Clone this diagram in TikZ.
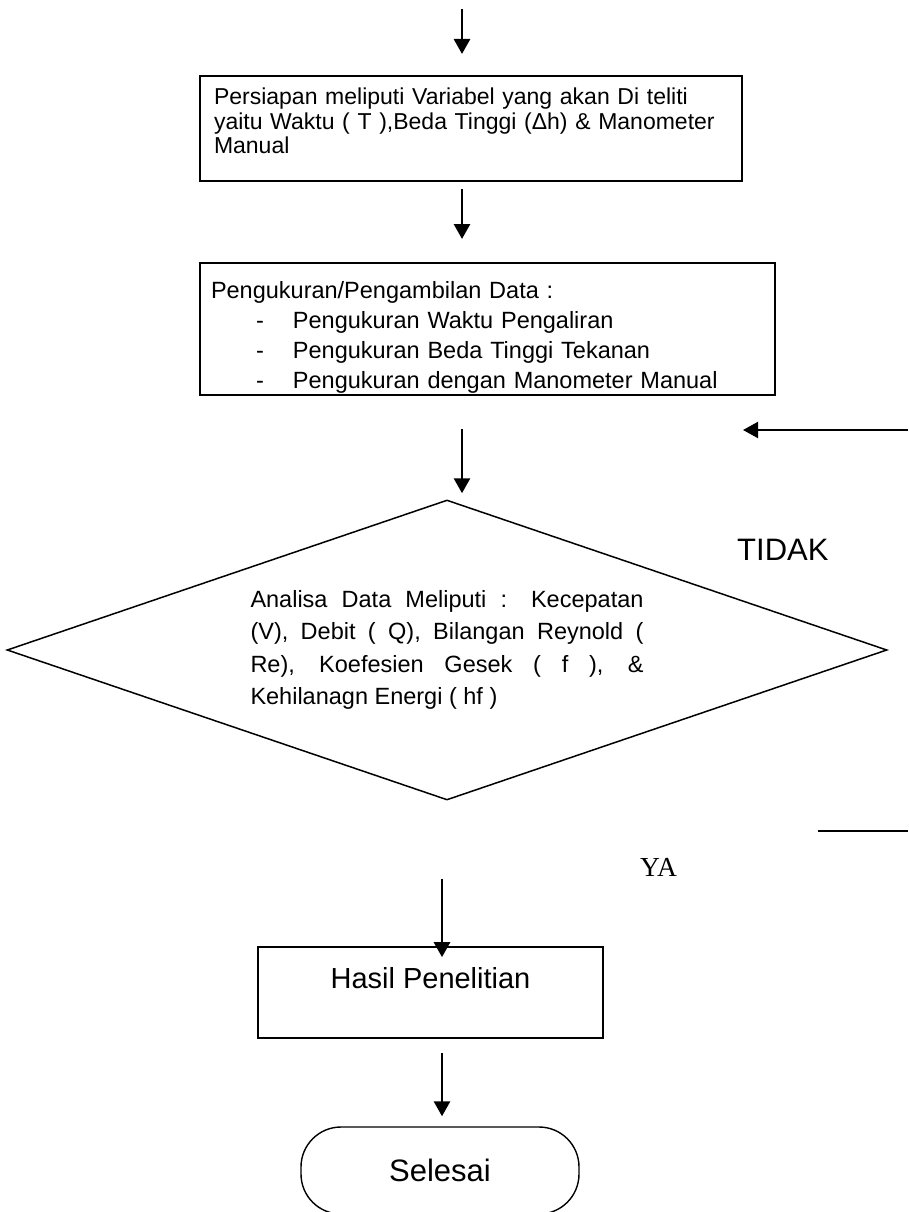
\documentclass[tikz,border=0pt]{standalone}
\usepackage{fontspec}
\setmainfont{Liberation Sans}
\newfontfamily\yafont{Liberation Serif}
\usetikzlibrary{calc,shapes.geometric,arrows.meta}

\begin{document}
\begin{tikzpicture}[x=1pt, y=1pt,
    box/.style={draw, rectangle, line width=2pt, align=left,
        font=\fontsize{23}{24.5}\selectfont},
    decision/.style={draw, diamond, line width=1.5pt, aspect=2.9, inner sep=0pt,
        minimum width=880pt, minimum height=300pt, text width=393pt,
        align=justify, font=\fontsize{23.5}{32.3}\selectfont},
    term/.style={draw, rectangle, rounded corners=40pt, line width=1.4pt,
        minimum width=278pt, minimum height=87pt,
        font=\fontsize{31}{36}\selectfont},
    label/.style={anchor=base west, inner sep=0pt},
    flow/.style={->, line width=2.8pt},
    >={Triangle[length=15pt,width=16pt]}]

    \useasboundingbox (0,0) rectangle (908,-1212);

    \node[box, text width=514pt, inner xsep=14pt, inner ysep=12.5pt,
        text height=16.5pt, text depth=63.5pt] (prep) at (471,-128.5)
        {Persiapan meliputi Variabel yang akan Di teliti\\
         yaitu Waktu ( T ),Beda Tinggi (Δh) \& Manometer\\
         Manual};
    \node[box, text width=553pt, inner xsep=11pt, inner ysep=18.2pt,
        text height=16.8pt, text depth=78.8pt,
        font=\fontsize{23.5}{30}\selectfont] (data) at (487.5,-329)
        {Pengukuran/Pengambilan Data :\\
         \makebox[82pt][l]{\hspace{45pt}-}Pengukuran Waktu Pengaliran\\
         \makebox[82pt][l]{\hspace{45pt}-}Pengukuran Beda Tinggi Tekanan\\
         \makebox[82pt][l]{\hspace{45pt}-}Pengukuran dengan Manometer Manual};
    \node[decision] (analisa) at (447,-650)
        {Analisa Data Meliputi : Kecepatan\linebreak
         (V), Debit ( Q), Bilangan Reynold (\linebreak
         Re), Koefesien Gesek ( f ), \&\linebreak
         Kehilanagn Energi ( hf )};
    \node[box, line width=1.7pt, minimum width=345pt, inner ysep=20.2pt,
        text height=20.8pt, text depth=29.8pt,
        font=\fontsize{29}{34}\selectfont] (hasil) at (430.5,-992.5)
        {Hasil Penelitian};
    \node[term] (selesai) at (440,-1170.5) {Selesai};

    \node[label, font=\fontsize{31}{36}\selectfont] (tidak) at (737,-560) {TIDAK};
    \node[label, font=\yafont\fontsize{27.5}{32}\selectfont] (ya) at (640,-876) {YA};

    % flow down the middle
    \coordinate (start) at (462,-9);
    \coordinate (mid) at (442,-879);
    \draw[flow] (start) -- ([yshift=21pt]prep.north -| start);
    \draw[flow] ([yshift=-7pt]prep.south -| start) -- ([yshift=23pt]data.north -| start);
    \draw[flow] ([yshift=-33pt]data.south -| start) -- ([yshift=6pt]analisa.north -| start);
    \draw[flow] (mid) -- ([yshift=-11pt]hasil.north -| mid);
    \draw[flow] ([yshift=-14pt]hasil.south -| mid) -- ([yshift=10pt]selesai.north -| mid);

    % loop back (TIDAK) and way out (YA) at the right
    \coordinate (loopin) at (908,-430);
    \coordinate (loopend) at (743,-430);
    \coordinate (loopout) at (818,-831);
    \coordinate (edge) at (908,-831);
    \draw[->, line width=2pt] (loopin) -- (loopend);
    \draw[line width=1.7pt] (loopout) -- (edge);
\end{tikzpicture}
\end{document}
